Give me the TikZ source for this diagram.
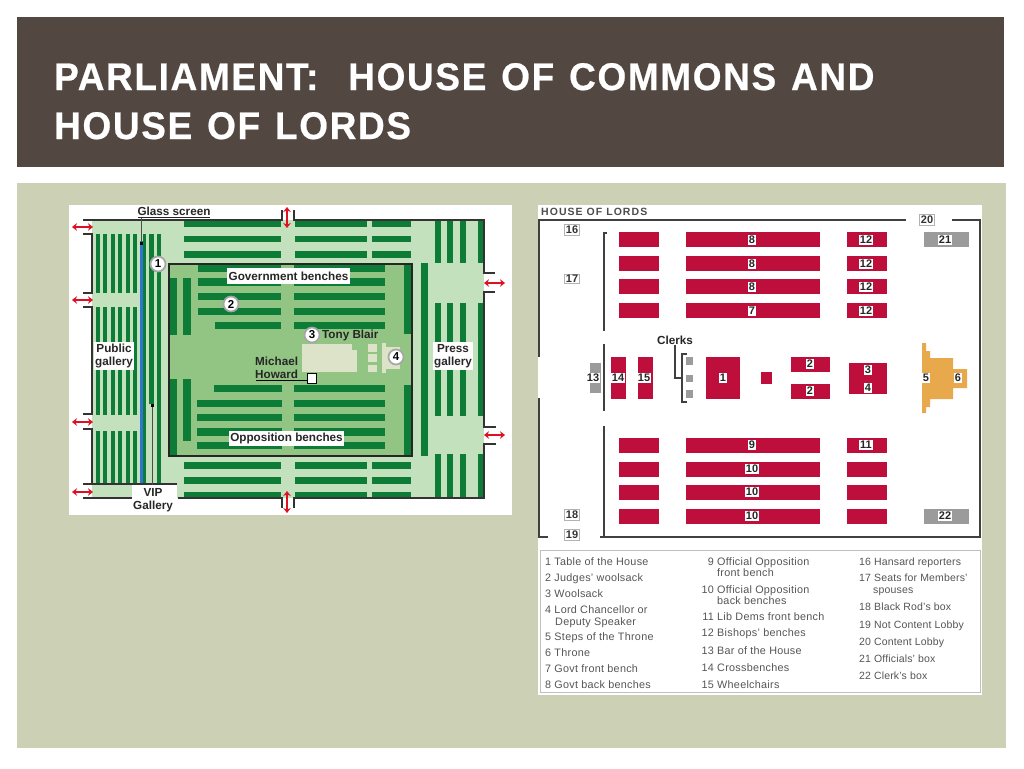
\documentclass[tikz,border=0pt]{standalone}
\usepackage{fontspec}
\setmainfont{Liberation Sans}
\newfontfamily\titlefont{Liberation Sans Bold}[LetterSpace=4.3,FakeBold=0.6,WordSpace=1.25,FakeStretch=0.96]
\newfontfamily\headfont[LetterSpace=10]{Liberation Sans}
\usetikzlibrary{arrows.meta}
\definecolor{slidebar}{HTML}{534741}
\definecolor{slidebg}{HTML}{CCD1B5}
\definecolor{lightgr}{HTML}{C3E1BD}
\definecolor{midgr}{HTML}{92C584}
\definecolor{darkgr}{HTML}{0D7C36}
\definecolor{glassblue}{HTML}{2F74D0}
\definecolor{crimson}{HTML}{BE0E3C}
\definecolor{boxgray}{HTML}{9B9B9B}
\definecolor{throne}{HTML}{E8A94C}
\definecolor{cream}{HTML}{DDE3C8}
\definecolor{legendtext}{HTML}{555555}
\definecolor{arrowred}{HTML}{DD1122}
\tikzset{
  x=1pt,y=-1pt,
  bench/.style={fill=darkgr},
  redbench/.style={fill=crimson},
  wall/.style={draw=black!80,line width=1.2pt},
  wallr/.style={draw=black!75,line width=1.1pt},
  updown/.style={draw=arrowred,line width=2pt,{Stealth[length=5pt,width=7.5pt]}-{Stealth[length=5pt,width=7.5pt]}},
  whitelabel/.style={fill=white,inner sep=1.2pt,font=\bfseries\fontsize{11.7}{13.5}\selectfont,text=black!85,align=center},
  plainlabel/.style={inner sep=0pt,font=\bfseries\fontsize{11.7}{13.5}\selectfont,text=black!85,align=center},
  circ/.style={circle,fill=white,draw=black!35,line width=1.7pt,minimum size=15pt,inner sep=0pt,font=\bfseries\fontsize{11.5}{12}\selectfont},
  numbox/.style={fill=white,inner sep=1.3pt,font=\bfseries\fontsize{11}{12}\selectfont,text=black!85},
  keybox/.style={fill=white,draw=black!30,line width=1pt,inner sep=1.2pt,font=\bfseries\fontsize{11}{12}\selectfont,text=black!80},
  legend/.style={anchor=base west,inner sep=0pt,text=legendtext,font=\fontsize{10.8}{12}\selectfont},
  legendr/.style={anchor=base east,inner sep=0pt,text=legendtext,font=\fontsize{10.8}{12}\selectfont},
  legendc/.style={anchor=base west,inner sep=0pt,text=legendtext,font=\fontsize{10.5}{12}\selectfont},
}
\newcommand{\legt}[4]{\node[legend] (#1) at (#2,#3) {\addfontfeature{LetterSpace=2.6}#4};}
\newcommand{\legn}[4]{\node[legendr] (#1) at (#2,#3) {\addfontfeature{LetterSpace=2.6}#4};}
\newcommand{\legc}[4]{\node[legendc] (#1) at (#2,#3) {\addfontfeature{LetterSpace=1.5}#4};}
\begin{document}
\begin{tikzpicture}
\useasboundingbox (0,0) rectangle (1024,768);
\fill[white] (0,0) rectangle (1024,768);
\fill[slidebar] (17,17) rectangle (1004,167);
\fill[slidebg] (17,183) rectangle (1006,748);
\node[anchor=base west,inner sep=0pt,text=white] (title1) at (54,90) {\titlefont\fontsize{38.5}{40}\selectfont PARLIAMENT:\ \ HOUSE OF COMMONS AND};
\node[anchor=base west,inner sep=0pt,text=white] (title2) at (54,139) {\titlefont\fontsize{38.5}{40}\selectfont HOUSE OF LORDS};

% ---------- House of Commons ----------
\fill[white] (69,205) rectangle (512,515);
\fill[lightgr] (92,220) rectangle (484,498);
\foreach \ya/\yb in {220/227,236/242,251/258,462/469,477/484,492/498}{
  \fill[bench] (184,\ya) rectangle (281,\yb);
  \fill[bench] (295,\ya) rectangle (367,\yb);
  \fill[bench] (372,\ya) rectangle (411,\yb);
}
\foreach \xa/\xb in {96/100,103/107,111/115,118/122,126/130,133/137}{
  \fill[bench] (\xa,234) rectangle (\xb,293);
  \fill[bench] (\xa,307) rectangle (\xb,415);
  \fill[bench] (\xa,431) rectangle (\xb,484);
}
\foreach \xa/\xb/\yb in {143/146/484,149/154/404,157/161/484}{
  \fill[bench] (\xa,234) rectangle (\xb,\yb);
}
\fill[glassblue] (139.5,241) rectangle (142.5,484);
\foreach \xa/\xb in {435/441,447/453,460/466,478/484}{
  \fill[bench] (\xa,220) rectangle (\xb,263);
  \fill[bench] (\xa,303) rectangle (\xb,416);
  \fill[bench] (\xa,454) rectangle (\xb,498);
}
\fill[bench] (421,263) rectangle (428,456);
\fill[midgr] (169,264) rectangle (412,456);
\foreach \ya/\yb in {265/272,278/286,293/300,308/315}{
  \fill[bench] (198,\ya) rectangle (281,\yb);
  \fill[bench] (294,\ya) rectangle (385,\yb);
}
\fill[bench] (215,322) rectangle (281,329);
\fill[bench] (294,322) rectangle (385,329);
\fill[bench] (214,385) rectangle (282,392);
\fill[bench] (294,385) rectangle (385,392);
\foreach \ya/\yb in {400/407,414/421,428/436,442/449}{
  \fill[bench] (197,\ya) rectangle (282,\yb);
  \fill[bench] (294,\ya) rectangle (385,\yb);
}
\fill[bench] (170,278) rectangle (177,335);
\fill[bench] (183,278) rectangle (191,335);
\fill[bench] (404,265) rectangle (411,334);
\fill[bench] (170,379) rectangle (177,456);
\fill[bench] (183,379) rectangle (191,441);
\fill[bench] (404,385) rectangle (411,456);
\fill[cream] (302,344) rectangle (352,372);
\fill[cream] (352,350) rectangle (357,372);
\foreach \ya/\yb in {344/352,354/362,365/372}{\fill[cream] (368,\ya) rectangle (377,\yb);}
\fill[cream] (382,343) rectangle (386,373);
\fill[cream] (386,347) rectangle (400,369);
\draw[black!85,line width=1.4pt] (169,264) rectangle (412,456);
\draw[wall] (83,234) -- (92,234) -- (92,293) -- (83,293);
\draw[wall] (83,307) -- (92,307) -- (92,414) -- (83,414);
\draw[wall] (83,429) -- (92,429) -- (92,484) -- (83,484);
\draw[wall] (83,220) -- (282,220) -- (282,210);
\draw[wall] (294,210) -- (294,220) -- (484,220) -- (484,273) -- (495,273);
\draw[wall] (495,292) -- (484,292) -- (484,427) -- (496,427);
\draw[wall] (496,444) -- (484,444) -- (484,498) -- (294,498) -- (294,508);
\draw[wall] (282,508) -- (282,498) -- (178,498);
\draw[wall] (83,498) -- (132,498);
\draw[wall] (83,484) -- (177,484);
\coordinate (la1) at (72,227); \coordinate (la1e) at (93,227);
\coordinate (la2) at (72,300); \coordinate (la2e) at (93,300);
\coordinate (la3) at (72,422); \coordinate (la3e) at (93,422);
\coordinate (la4) at (72,492); \coordinate (la4e) at (93,492);
\coordinate (ra1) at (484,283); \coordinate (ra1e) at (505,283);
\coordinate (ra2) at (484,435); \coordinate (ra2e) at (505,435);
\coordinate (va1) at (287,207); \coordinate (va1e) at (287,228);
\coordinate (va2) at (287,491); \coordinate (va2e) at (287,513);
\foreach \a/\b in {la1/la1e,la2/la2e,la3/la3e,la4/la4e,ra1/ra1e,ra2/ra2e,va1/va1e,va2/va2e}{
  \draw[updown] (\a) -- (\b);
}
\fill[white] (132,485) rectangle (177,515);
\draw[wall] (132,484.5) -- (177,484.5);
\node[plainlabel] (glass) at (174,211) {Glass screen};
\draw[black!85,line width=1pt] (138,217.5) -- (210,217.5);
\coordinate (gtop) at (141,217.5);
\coordinate (gdot) at (141,243);
\draw[black!70,line width=1pt] (gtop) -- (gdot);
\fill[black] (139.5,241.5) rectangle (142.5,244.5);
\coordinate (vdot) at (152,405);
\coordinate (vtop) at (152,485);
\draw[black!70,line width=1pt] (vdot) -- (vtop);
\fill[black] (150.5,403.5) rectangle (153.5,406.5);
\node[plainlabel] (vip) at (153,500) {VIP\\Gallery};
\node[whitelabel,minimum width=40pt,minimum height=28pt,inner sep=0pt] (public) at (114,356) {Public\\gallery};
\node[whitelabel,minimum width=40pt,minimum height=28pt,inner sep=0pt] (press) at (453,356) {Press\\gallery};
\node[whitelabel,minimum width=123pt,minimum height=16pt,inner sep=0pt] (gov) at (288.5,276) {Government benches};
\node[whitelabel,minimum width=115pt,minimum height=15pt,inner sep=0pt] (opp) at (286.5,438) {Opposition benches};
\node[circ] (c1) at (158,264) {1};
\node[circ] (c2) at (231,304) {2};
\node[circ] (c3) at (312,335) {3};
\node[circ] (c4) at (396,357) {4};
\node[plainlabel,anchor=west] (tony) at (322,335) {Tony Blair};
\node[plainlabel,anchor=west] (michael) at (255,361) {Michael};
\node[plainlabel,anchor=west] (howard) at (255,374) {Howard};
\node[draw=black,fill=white,line width=.9pt,minimum size=9.5pt,inner sep=0pt] (mh) at (312,378.5) {};
\coordinate (hline) at (256,380.5);
\draw[black,line width=1pt] (hline) -- (hline -| mh.west);

% ---------- House of Lords ----------
\fill[white] (538,205) rectangle (982,695);
\node[anchor=base west,inner sep=0pt,text=black!70] (lordstitle) at (541,215.5) {\headfont\bfseries\fontsize{10.5}{11}\selectfont HOUSE OF LORDS};
\draw[wallr] (539,357) -- (539,220) -- (906,220);
\draw[wallr] (952,220) -- (980,220) -- (980,537) -- (600,537);
\draw[wallr] (539,398) -- (539,537) -- (548,537);
\draw[wallr] (607,233) -- (604,233) -- (604,331);
\draw[wallr] (604,344) -- (604,411);
\draw[wallr] (604,426) -- (604,537);
\foreach \ya/\yb in {232/247,256/271,279/294,303/318,438/453,462/477,485/500,509/524}{
  \fill[redbench] (619,\ya) rectangle (659,\yb);
  \fill[redbench] (686,\ya) rectangle (820,\yb);
  \fill[redbench] (847,\ya) rectangle (887,\yb);
}
\fill[boxgray] (590,363) rectangle (601,393);
\fill[redbench] (611,357) rectangle (626,399);
\fill[redbench] (638,357) rectangle (653,399);
\fill[redbench] (706,357) rectangle (740,399);
\fill[redbench] (761,372) rectangle (772,384);
\fill[redbench] (791,357) rectangle (830,372);
\fill[redbench] (791,384) rectangle (830,399);
\fill[redbench] (849,363) rectangle (887,394);
\foreach \ya/\yb in {357/365,375/382,390/398}{\fill[boxgray] (686,\ya) rectangle (693,\yb);}
\draw[wallr] (687,354) -- (682,354) -- (682,402) -- (687,402);
\node[plainlabel] (clerks) at (675,340) {Clerks};
\coordinate (cbend) at (675,378);
\coordinate (cend) at (682,378);
\draw[wallr] (clerks.south) -- (cbend) -- (cend);
\fill[throne] (922,343) -- (926,343) -- (926,351) -- (930,351) -- (930,358) -- (953,358) -- (953,369) -- (967,369) -- (967,388) -- (953,388) -- (953,399) -- (930,399) -- (930,407) -- (926,407) -- (926,413) -- (922,413) -- cycle;
\fill[boxgray] (924,232) rectangle (969,247);
\fill[boxgray] (924,509) rectangle (969,524);
\foreach \n/\t/\x/\y in {l8a/8/752/240,l8b/8/752/264,l8c/8/752/287,l7/7/752/311,l9/9/752/445,l10a/10/752/469,l10b/10/752/492,l10c/10/752/516,l12a/12/866/240,l12b/12/866/264,l12c/12/866/287,l12d/12/866/311,l11/11/866/445,l2a/2/810/364,l2b/2/810/391,l3/3/868/370,l4/4/868/388,l1/1/723/378,l13/13/593/378,l14/14/618/378,l15/15/644/378,l5/5/926/378,l6/6/958/378,l21/21/945/240,l22/22/945/516}{
  \node[numbox] (\n) at (\x,\y) {\t};
}
\foreach \n/\t/\x/\y in {k16/16/572/230,k17/17/572/279,k18/18/572/515,k19/19/572/535,k20/20/927/220}{
  \node[keybox] (\n) at (\x,\y) {\t};
}
\draw[black!25,line width=.8pt] (540,550) rectangle (980,692);
\legt{a1}{545}{565}{1 Table of the House}
\legt{a2}{545}{581}{2 Judges' woolsack}
\legt{a3}{545}{597}{3 Woolsack}
\legt{a4}{545}{613}{4 Lord Chancellor or}
\legt{a4b}{555}{625}{Deputy Speaker}
\legt{a5}{545}{640}{5 Steps of the Throne}
\legt{a6}{545}{656}{6 Throne}
\legt{a7}{545}{672}{7 Govt front bench}
\legt{a8}{545}{688}{8 Govt back benches}
\legn{b9n}{714}{565}{9}
\legt{b9}{717}{565}{Official Opposition}
\legt{b9b}{717}{576}{front bench}
\legn{b10n}{714}{593}{10}
\legt{b10}{717}{593}{Official Opposition}
\legt{b10b}{717}{604}{back benches}
\legn{b11n}{714}{620}{11}
\legt{b11}{717}{620}{Lib Dems front bench}
\legn{b12n}{714}{636}{12}
\legt{b12}{717}{636}{Bishops' benches}
\legn{b13n}{714}{654}{13}
\legt{b13}{717}{654}{Bar of the House}
\legn{b14n}{714}{671}{14}
\legt{b14}{717}{671}{Crossbenches}
\legn{b15n}{714}{688}{15}
\legt{b15}{717}{688}{Wheelchairs}
\legc{c16}{859}{565}{16 Hansard reporters}
\legc{c17}{859}{581}{17 Seats for Members'}
\legc{c17b}{873}{593}{spouses}
\legc{c18}{859}{610}{18 Black Rod's box}
\legc{c19}{859}{628}{19 Not Content Lobby}
\legc{c20}{859}{645}{20 Content Lobby}
\legc{c21}{859}{662}{21 Officials' box}
\legc{c22}{859}{679}{22 Clerk's box}
\end{tikzpicture}
\end{document}
